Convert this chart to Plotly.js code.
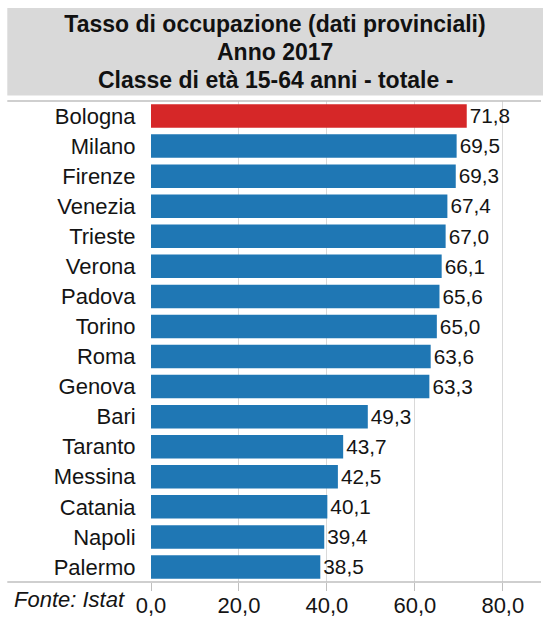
<!DOCTYPE html>
<html>
<head>
<meta charset="utf-8">
<script src="https://cdn.plot.ly/plotly-3.0.1.min.js"></script>
<style>
  html, body { margin: 0; padding: 0; background: #ffffff; }
  #chart { width: 543px; height: 619px; }
</style>
</head>
<body>
<div id="chart"></div>
<script>
const categories = ["Bologna","Milano","Firenze","Venezia","Trieste","Verona","Padova","Torino","Roma","Genova","Bari","Taranto","Messina","Catania","Napoli","Palermo"];
const values = [71.8,69.5,69.3,67.4,67.0,66.1,65.6,65.0,63.6,63.3,49.3,43.7,42.5,40.1,39.4,38.5];
const highlighted = "Bologna";
const tickValues = [0,20,40,60,80];
const titleLines = ["Tasso di occupazione (dati provinciali)","Anno 2017","Classe di età 15-64 anni - totale -"];
const sourceNote = "Fonte: Istat";

const FONT = "Liberation Sans, Arial, sans-serif";
const RED = "#d62728", BLUE = "#1f77b4";
const TXT = "#141414";

const W = 543, H = 619;
const L = 151, R = 3, T = 100.5, B = 36.7;
const pw = W - L - R, ph = H - T - B;
const px2x = p => (p - L) / pw;
const px2y = p => (H - B - p) / ph;

const trace = {
  type: "bar",
  orientation: "h",
  y: categories,
  x: values,
  marker: { color: categories.map(c => c === highlighted ? RED : BLUE), line: { width: 0 } },
  texttemplate: "%{x:.1f}",
  textposition: "outside",
  textfont: { family: FONT, size: 23, color: TXT },
  cliponaxis: false,
  hoverinfo: "skip"
};

const titleCenters = [24, 51.5, 79];
const titleAnnotations = titleLines.slice(1).map((t, i) => ({
  text: t, xref: "paper", yref: "paper",
  x: px2x(275), xanchor: "center",
  y: px2y(titleCenters[i + 1]), yanchor: "middle",
  showarrow: false,
  font: { family: FONT, size: 23, color: "#111111", weight: "bold" }
}));

const layout = {
  width: W, height: H,
  margin: { l: L, r: R, t: T, b: B, pad: 0 },
  paper_bgcolor: "#ffffff",
  plot_bgcolor: "#ffffff",
  separators: ",.",
  showlegend: false,
  bargap: 0.22,
  font: { family: FONT, size: 22, color: TXT },
  title: {
    text: titleLines[0],
    font: { family: FONT, size: 23, color: "#111111", weight: "bold" },
    xref: "container", x: 275 / W, xanchor: "center",
    yref: "container", y: 1 - titleCenters[0] / H, yanchor: "middle"
  },
  xaxis: {
    range: [0, (W - R - L) / 4.3975],
    tickvals: tickValues,
    tickformat: ".1f",
    showgrid: true, gridcolor: "#d9d9d9", gridwidth: 1,
    zeroline: false,
    showline: false,
    ticks: "outside", ticklen: 8, tickcolor: "#bfbfbf", tickwidth: 1,
    ticklabelstandoff: -4,
    tickfont: { family: FONT, size: 22, color: TXT },
    fixedrange: true
  },
  yaxis: {
    type: "category",
    autorange: "reversed",
    showgrid: false, zeroline: false, showline: false,
    ticks: "outside", ticklen: 10, tickcolor: "rgba(0,0,0,0)",
    tickfont: { family: FONT, size: 22, color: TXT },
    fixedrange: true
  },
  shapes: [
    { type: "rect", xref: "paper", yref: "paper", layer: "below",
      x0: px2x(7.3), x1: px2x(545), y0: px2y(95), y1: px2y(7.3),
      fillcolor: "#d9d9d9", line: { width: 0 } },
    { type: "line", xref: "paper", yref: "paper",
      x0: px2x(7.3), x1: px2x(541), y0: 1, y1: 1,
      line: { color: "#bfbfbf", width: 1.5 } },
    { type: "line", xref: "paper", yref: "paper",
      x0: px2x(7.3), x1: px2x(541), y0: 0, y1: 0,
      line: { color: "#bfbfbf", width: 1.5 } }
  ],
  annotations: titleAnnotations.concat([
    { text: sourceNote, xref: "paper", yref: "paper",
      x: px2x(12), xanchor: "left", y: px2y(600), yanchor: "middle",
      showarrow: false, font: { family: FONT, size: 22, color: TXT, style: "italic" } }
  ])
};

Plotly.newPlot("chart", [trace], layout, { staticPlot: true, displayModeBar: false });
</script>
</body>
</html>
